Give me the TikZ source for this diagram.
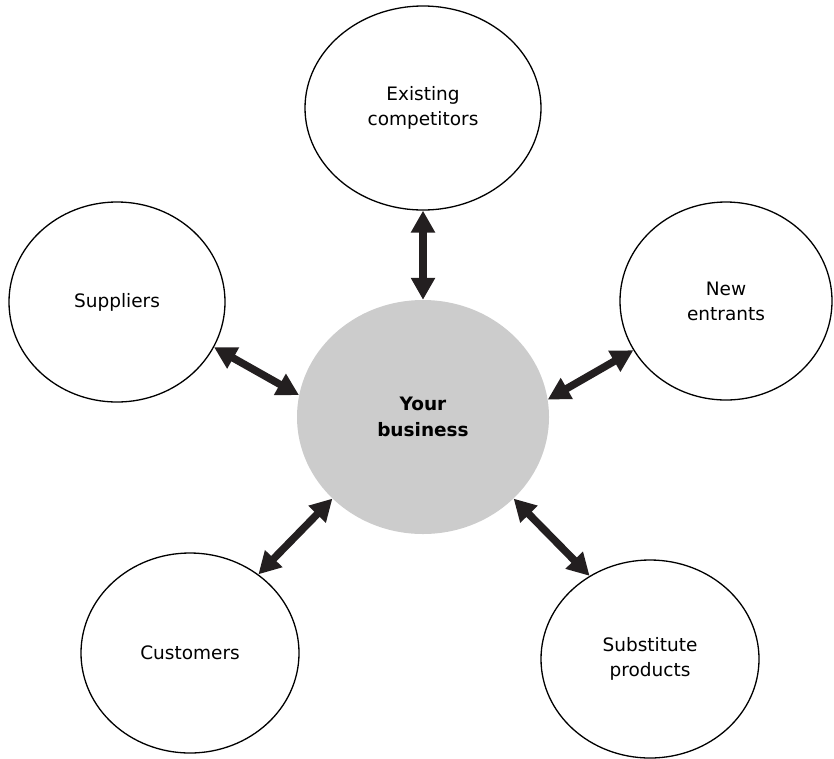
\documentclass[tikz,border=0pt]{standalone}
\usepackage{fontspec}
\setmainfont{DejaVu Sans}
\usetikzlibrary{arrows.meta,shapes.geometric}
\definecolor{hub}{HTML}{CCCCCC}
\definecolor{ink}{HTML}{231F20}
\begin{document}
\begin{tikzpicture}[x=1pt,y=-1pt,
  force/.style={ellipse, draw=black, line width=1.3pt, inner sep=0pt, align=center,
    font=\fontsize{18.5}{25}\selectfont},
  center/.style={ellipse, fill=hub, inner sep=0pt, align=center,
    font=\bfseries\fontsize{18.5}{26}\selectfont},
  link/.style={draw=ink, line width=7.5pt,
    {Triangle[length=22pt,width=23pt]}-{Triangle[length=22pt,width=23pt]}}]
\useasboundingbox (0,0) rectangle (834,758);
\node[center, minimum width=252pt, minimum height=234pt] (biz) at (423,417) {Your\\business};
\node[force, minimum width=236pt, minimum height=204pt] (comp) at (423,108) {Existing\\competitors};
\node[force, minimum width=216pt, minimum height=200pt] (sup) at (117,302) {Suppliers};
\node[force, minimum width=212pt, minimum height=198pt] (new) at (726,301) {New\\entrants};
\node[force, minimum width=218pt, minimum height=200pt] (cust) at (190,653) {Customers};
\node[force, minimum width=218pt, minimum height=198pt] (sub) at (650,659) {Substitute\\products};
\draw[link] (comp.south) -- (biz.north);
\draw[link] (sup.-25) -- (biz.170);
\draw[link] (biz.8) -- (new.208);
\draw[link] (biz.222) -- (cust.49);
\draw[link] (biz.-42) -- (sub.126);
\end{tikzpicture}
\end{document}
